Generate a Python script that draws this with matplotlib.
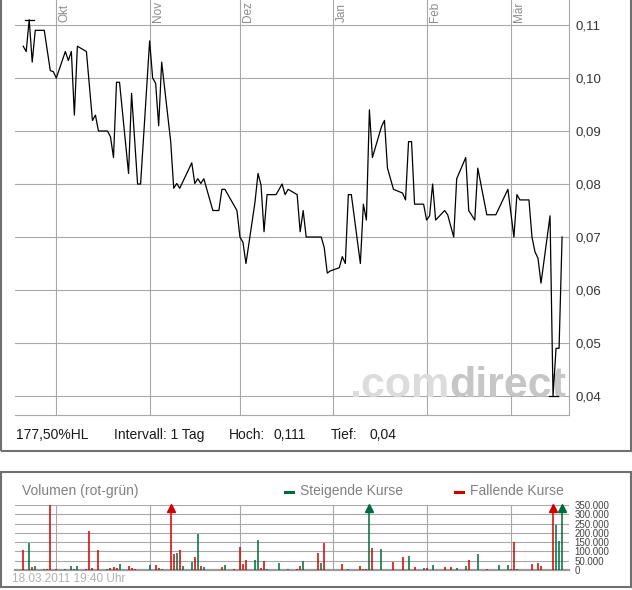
import matplotlib
matplotlib.use('Agg')
import matplotlib.pyplot as plt
from matplotlib.lines import Line2D
from matplotlib.patches import Rectangle
import pandas as pd

plt.rcParams['font.family'] = ['Liberation Sans', 'DejaVu Sans']

# Schlusskurse
kurs_datum = [
    '2010-09-20', '2010-09-21', '2010-09-22', '2010-09-23', '2010-09-24', '2010-09-27',
    '2010-09-29', '2010-09-30', '2010-10-01', '2010-10-04', '2010-10-05', '2010-10-06',
    '2010-10-07', '2010-10-08', '2010-10-11', '2010-10-13', '2010-10-14', '2010-10-15',
    '2010-10-18', '2010-10-19', '2010-10-20', '2010-10-21', '2010-10-22', '2010-10-25',
    '2010-10-26', '2010-10-28', '2010-10-29', '2010-11-01', '2010-11-02', '2010-11-03',
    '2010-11-04', '2010-11-05', '2010-11-08', '2010-11-09', '2010-11-10', '2010-11-11',
    '2010-11-15', '2010-11-16', '2010-11-17', '2010-11-18', '2010-11-19', '2010-11-22',
    '2010-11-24', '2010-11-25', '2010-11-26', '2010-11-30', '2010-12-01', '2010-12-02',
    '2010-12-03', '2010-12-06', '2010-12-07', '2010-12-08', '2010-12-09', '2010-12-10',
    '2010-12-13', '2010-12-15', '2010-12-16', '2010-12-17', '2010-12-20', '2010-12-21',
    '2010-12-22', '2010-12-23', '2010-12-28', '2010-12-29', '2010-12-30', '2010-12-31',
    '2011-01-03', '2011-01-04', '2011-01-05', '2011-01-06', '2011-01-07', '2011-01-10',
    '2011-01-11', '2011-01-12', '2011-01-13', '2011-01-14', '2011-01-17', '2011-01-18',
    '2011-01-19', '2011-01-21', '2011-01-24', '2011-01-25', '2011-01-26', '2011-01-27',
    '2011-01-28', '2011-01-31', '2011-02-01', '2011-02-02', '2011-02-03', '2011-02-04',
    '2011-02-07', '2011-02-08', '2011-02-10', '2011-02-11', '2011-02-14', '2011-02-15',
    '2011-02-17', '2011-02-18', '2011-02-21', '2011-02-24', '2011-02-28', '2011-03-02',
    '2011-03-03', '2011-03-04', '2011-03-07', '2011-03-08', '2011-03-09', '2011-03-10',
    '2011-03-11', '2011-03-14', '2011-03-15', '2011-03-16', '2011-03-17', '2011-03-18',
]
kurs = [
    0.106, 0.105, 0.111, 0.103, 0.109, 0.109,
    0.1014, 0.1012, 0.100, 0.105, 0.1033, 0.105,
    0.093, 0.106, 0.105, 0.092, 0.093, 0.090,
    0.090, 0.0889, 0.085, 0.0992, 0.0992, 0.082,
    0.0971, 0.080, 0.080, 0.107, 0.100, 0.099,
    0.091, 0.103, 0.088, 0.0792, 0.0801, 0.0792,
    0.084, 0.0801, 0.081, 0.0801, 0.081, 0.075,
    0.075, 0.079, 0.079, 0.075, 0.070, 0.069,
    0.065, 0.0766, 0.082, 0.0798, 0.071, 0.078,
    0.078, 0.080, 0.078, 0.079, 0.078, 0.071,
    0.075, 0.070, 0.070, 0.068, 0.0632, 0.0636,
    0.0642, 0.0663, 0.065, 0.078, 0.078, 0.065,
    0.0762, 0.0732, 0.094, 0.085, 0.0908, 0.092,
    0.083, 0.079, 0.0783, 0.077, 0.088, 0.088,
    0.0762, 0.0762, 0.0732, 0.074, 0.080, 0.0732,
    0.075, 0.0742, 0.070, 0.081, 0.085, 0.075,
    0.0732, 0.083, 0.0742, 0.0742, 0.079, 0.070,
    0.078, 0.077, 0.077, 0.070, 0.0672, 0.066,
    0.0613, 0.074, 0.040, 0.049, 0.049, 0.070,
]

# Umsatz (Stück) und Richtung: 'g' steigend, 'r' fallend
vol_datum = [
    '2010-09-20', '2010-09-22', '2010-09-23', '2010-09-24', '2010-09-27', '2010-09-28',
    '2010-09-29', '2010-10-01', '2010-10-04', '2010-10-06', '2010-10-07', '2010-10-08',
    '2010-10-11', '2010-10-12', '2010-10-13', '2010-10-15', '2010-10-18', '2010-10-19',
    '2010-10-20', '2010-10-21', '2010-10-22', '2010-10-25', '2010-10-26', '2010-10-27',
    '2010-11-01', '2010-11-03', '2010-11-04', '2010-11-05', '2010-11-08', '2010-11-09',
    '2010-11-10', '2010-11-11', '2010-11-12', '2010-11-15', '2010-11-16', '2010-11-17',
    '2010-11-18', '2010-11-19', '2010-11-25', '2010-11-26', '2010-11-29', '2010-12-01',
    '2010-12-02', '2010-12-03', '2010-12-06', '2010-12-07', '2010-12-08', '2010-12-09',
    '2010-12-10', '2010-12-14', '2010-12-17', '2010-12-20', '2010-12-21', '2010-12-22',
    '2010-12-27', '2010-12-28', '2010-12-29', '2011-01-04', '2011-01-06', '2011-01-10',
    '2011-01-11', '2011-01-12', '2011-01-13', '2011-01-14', '2011-01-17', '2011-01-21',
    '2011-01-24', '2011-01-26', '2011-01-28', '2011-01-31', '2011-02-01', '2011-02-03',
    '2011-02-07', '2011-02-09', '2011-02-11', '2011-02-14', '2011-02-15', '2011-02-18',
    '2011-02-21', '2011-02-25', '2011-02-28', '2011-03-01', '2011-03-02', '2011-03-03',
    '2011-03-08', '2011-03-10', '2011-03-11', '2011-03-15', '2011-03-16', '2011-03-17',
    '2011-03-18',
]
volumen = [
    108000, 147000, 18000, 21000, 5000, 8000,
    350000, 5000, 5000, 21000, 8000, 21000,
    8000, 210000, 12000, 108000, 5000, 9000,
    17000, 12000, 32000, 21000, 12000, 8000,
    27000, 27000, 12000, 5000, 420000, 86000,
    93000, 108000, 21000, 43000, 68000, 194000,
    21000, 16000, 16000, 27000, 6000, 124000,
    32000, 54000, 54000, 161000, 12000, 48000,
    6000, 38000, 5000, 8000, 21000, 48000,
    90000, 36000, 147000, 32000, 6000, 21000,
    6000, 4000, 420000, 118000, 113000, 43000,
    70000, 75000, 16000, 11000, 12000, 27000,
    16000, 16000, 11000, 21000, 54000, 86000,
    6000, 27000, 27000, 4000, 152000, 6000,
    32000, 38000, 21000, 420000, 242000, 158000,
    420000,
]
vol_farbe = [
    'r', 'g', 'r', 'g', 'g', 'r',
    'r', 'r', 'g', 'g', 'r', 'g',
    'r', 'r', 'r', 'r', 'g', 'r',
    'r', 'r', 'g', 'r', 'r', 'r',
    'g', 'r', 'r', 'g', 'r', 'r',
    'g', 'r', 'g', 'g', 'r', 'g',
    'r', 'g', 'r', 'g', 'r', 'r',
    'r', 'r', 'g', 'g', 'r', 'r',
    'g', 'g', 'g', 'r', 'r', 'g',
    'r', 'g', 'r', 'r', 'g', 'r',
    'g', 'r', 'g', 'r', 'g', 'r',
    'r', 'g', 'r', 'g', 'r', 'g',
    'r', 'r', 'g', 'g', 'r', 'g',
    'r', 'g', 'g', 'r', 'r', 'g',
    'r', 'r', 'r', 'r', 'g', 'g',
    'g',
]

monate = ['2010-10-01', '2010-11-01', '2010-12-01', '2011-01-01', '2011-02-01', '2011-03-01']
monat_label = ['Okt', 'Nov', 'Dez', 'Jan', 'Feb', 'Mär']
kurs_ticks = [0.04, 0.05, 0.06, 0.07, 0.08, 0.09, 0.10, 0.11]
vol_ticks = [0, 50000, 100000, 150000, 200000, 250000, 300000, 350000]

hoch, hoch_tag = 0.111, '2010-09-22'
tief, tief_tag = 0.040, '2011-03-15'

GRUEN = '#006b3c'
ROT = '#d10000'
GITTER = '#a8a8a8'
RAHMEN = '#707070'

W, H = 632, 590
def fx(px):
    return px / W
def fy(py):
    return 1 - py / H

fig = plt.figure(figsize=(6.32, 5.9), dpi=100)

d0 = pd.Timestamp('2010-10-01')
xlim = (d0 + pd.Timedelta(days=-13.72), d0 + pd.Timedelta(days=170.3))
monat_x = pd.to_datetime(monate)

# Kurs-Chart
ax = fig.add_axes([fx(15), fy(415), fx(569) - fx(15), fy(0) - fy(415)])
ax.set_xlim(xlim)
ax.set_ylim(0.03642, 0.11472)
ax.set_axisbelow(True)
ax.set_xticks(monat_x)
ax.set_yticks(kurs_ticks)
ax.set_yticklabels([f'{v:.2f}'.replace('.', ',') for v in kurs_ticks])
ax.grid(True, color=GITTER, lw=0.8)
ax.yaxis.tick_right()
ax.tick_params(length=0, labelbottom=False)
ax.tick_params(axis='y', pad=5, labelsize=9.5, labelcolor='#333333')
for s in ['top', 'left']:
    ax.spines[s].set_visible(False)
for s in ['right', 'bottom']:
    ax.spines[s].set_color(GITTER)
    ax.spines[s].set_linewidth(0.8)

ax.plot(pd.to_datetime(kurs_datum), kurs, color='black', lw=0.9, zorder=3)
for wert, tag in [(hoch, hoch_tag), (tief, tief_tag)]:
    t = pd.Timestamp(tag)
    ax.plot([t - pd.Timedelta(days=1.5), t + pd.Timedelta(days=1.5)], [wert, wert],
            color='black', lw=0.9, zorder=3)

for mx, lab in zip(monat_x, monat_label):
    ax.text(mx + pd.Timedelta(days=0.7), 1 - 22 / 415, lab, transform=ax.get_xaxis_transform(),
            rotation=90, ha='left', va='bottom', fontsize=8.5, color='#8c8c8c')

# Wasserzeichen
ax.text(fx(449), fy(397), '.com', transform=fig.transFigure, ha='right', va='baseline',
        fontsize=31, fontweight='bold', color='#dcdcdc', zorder=1)
ax.text(fx(449), fy(397), 'direct', transform=fig.transFigure, ha='left', va='baseline',
        fontsize=31, fontweight='bold', color='#c6c6c6', zorder=1)

# Kennzahlen
stat_y = fy(435)
for px, txt in [(16, '177,50%HL'), (114, 'Intervall: 1 Tag'), (229, 'Hoch:'), (273, '0,111'),
                (331, 'Tief:'), (370, '0,04')]:
    fig.text(fx(px), stat_y, txt, ha='left', va='center', fontsize=10, color='#1a1a1a')

# Rahmen
fig.add_artist(Rectangle((fx(0.75), fy(451)), fx(630.5) - fx(0.75), 1 - fy(451) + 0.02,
                         transform=fig.transFigure, fill=False, ec=RAHMEN, lw=1.5))
fig.add_artist(Rectangle((fx(0.75), fy(587)), fx(630.5) - fx(0.75), fy(472) - fy(587),
                         transform=fig.transFigure, fill=False, ec=RAHMEN, lw=1.5))

# Volumen-Chart
av = fig.add_axes([fx(15), fy(570), fx(569) - fx(15), fy(505) - fy(570)])
av.set_xlim(xlim)
av.set_ylim(0, 350000)
av.set_axisbelow(True)
av.set_xticks(monat_x)
av.set_yticks(vol_ticks)
av.set_yticklabels([f'{v:,}'.replace(',', '.') for v in vol_ticks])
av.grid(True, color=GITTER, lw=0.8)
av.yaxis.tick_right()
av.tick_params(length=0, labelbottom=False)
av.tick_params(axis='y', pad=4, labelsize=7, labelcolor='#444444')
for s in ['top', 'left', 'right']:
    av.spines[s].set_visible(False)
av.spines['bottom'].set_color('#9a9a9a')
av.spines['bottom'].set_linewidth(1.6)

vd = pd.to_datetime(vol_datum)
for t, v, c in zip(vd, volumen, vol_farbe):
    col = GRUEN if c == 'g' else ROT
    av.vlines(t, 0, min(v, 350000), color=col, lw=1.1, zorder=3)
    if v > 350000:
        av.plot([t], [335000], marker='^', ms=6, color=col, mec=col, clip_on=False, zorder=4)

fig.text(fx(22), fy(491), 'Volumen (rot-grün)', ha='left', va='center', fontsize=10, color='#808080')
fig.add_artist(Line2D([fx(285), fx(293)], [fy(492), fy(492)], color=GRUEN, lw=2.2,
                      transform=fig.transFigure))
fig.text(fx(300), fy(491), 'Steigende Kurse', ha='left', va='center', fontsize=10, color='#808080')
fig.add_artist(Line2D([fx(455), fx(463)], [fy(492), fy(492)], color=ROT, lw=2.2,
                      transform=fig.transFigure))
fig.text(fx(470), fy(491), 'Fallende Kurse', ha='left', va='center', fontsize=10, color='#808080')
fig.text(fx(12), fy(579), '18.03.2011 19:40 Uhr', ha='left', va='center', fontsize=8.5,
         color='#b0b0b0')

fig.savefig('out.png', dpi=100)
